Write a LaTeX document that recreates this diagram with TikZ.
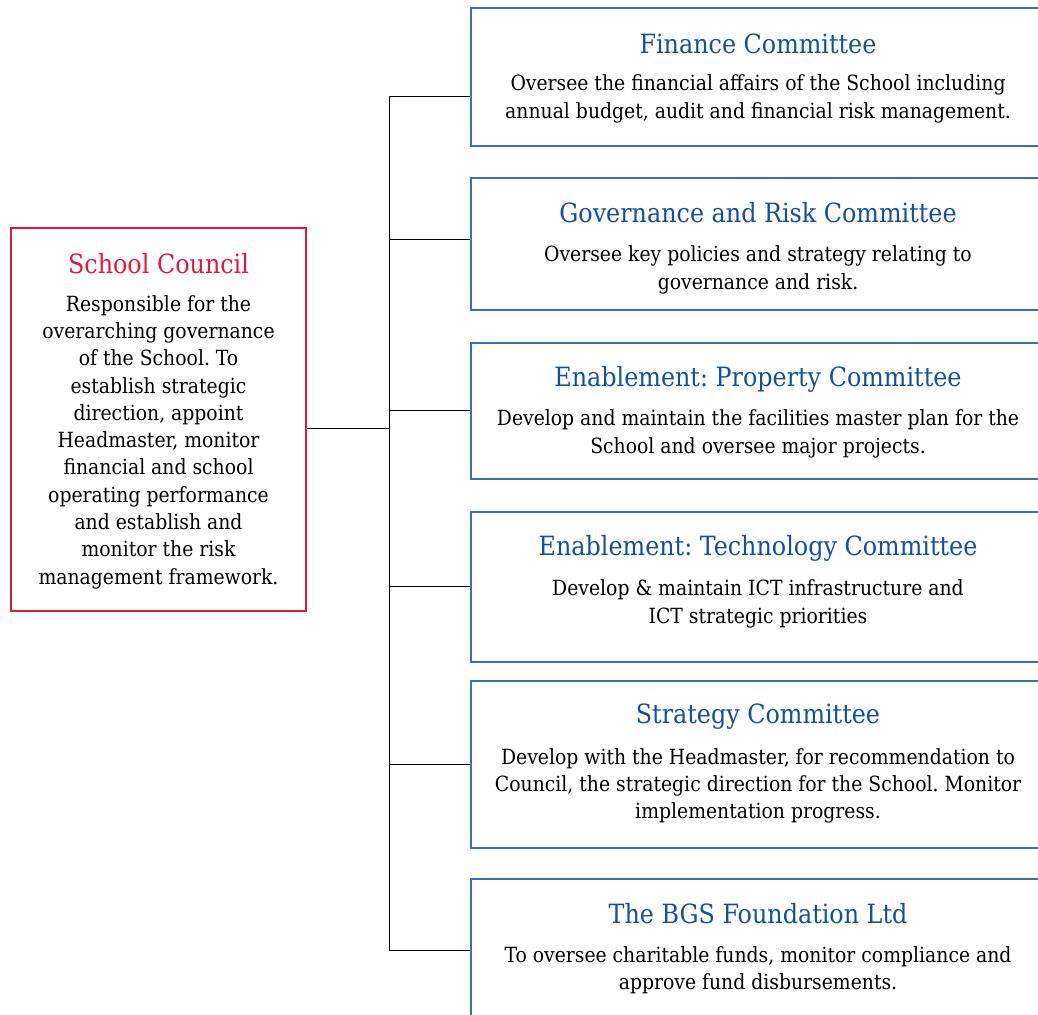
\documentclass[tikz,border=0pt]{standalone}
\usepackage{fontspec}
\setmainfont{DejaVu Serif Condensed}
\frenchspacing
\definecolor{councilred}{HTML}{E2193F}
\definecolor{titleblue}{HTML}{1150A0}
\definecolor{boxblue}{HTML}{3A6FB4}
\begin{document}
\begin{tikzpicture}[x=1pt,y=-1pt,
					council/.style={rectangle,draw=councilred,line width=2.2pt,minimum width=295pt,minimum height=383pt},
					box/.style={rectangle,draw=boxblue,line width=1.4pt,minimum width=574pt},
					head/.style={font=\fontsize{26.5}{30}\selectfont\frenchspacing,text=titleblue},
					body/.style={font=\fontsize{20.9}{27.3}\selectfont\frenchspacing,align=center,inner sep=0pt},
					every edge/.style={line width=0.9pt,draw}]
						\useasboundingbox (0,0) rectangle (1038,1014);
						\clip (0,0) rectangle (1038,1014);
						% left box
						\node[council] (SC) at (158.5,419.5) {};
						\node[head,text=councilred] (SCh) at (158.5,264) {School Council};
						\node[body] (SCb) at (158.5,442) {Responsible for the\\overarching governance\\of the School. To\\establish strategic\\direction, appoint\\Headmaster, monitor\\financial and school\\operating performance\\and establish and\\monitor the risk\\management framework.};
						% committees
						\node[box,minimum height=138pt] (FC) at (758,77) {};
						\node[head] (FCh) at (758,44) {Finance Committee};
						\node[body] (FCb) at (758,99) {Oversee the financial affairs of the School including\\annual budget, audit and financial risk management.};
						\node[box,minimum height=132pt] (GR) at (758,244) {};
						\node[head] (GRh) at (758,213) {Governance and Risk Committee};
						\node[body] (GRb) at (758,270) {Oversee key policies and strategy relating to\\governance and risk.};
						\node[box,minimum height=136pt] (PC) at (758,411) {};
						\node[head] (PCh) at (758,379) {Enablement: Property Committee};
						\node[body] (PCb) at (758,434) {Develop and maintain the facilities master plan for the\\School and oversee major projects.};
						\node[box,minimum height=150pt] (TC) at (758,587) {};
						\node[head] (TCh) at (758,548) {Enablement: Technology Committee};
						\node[body] (TCb) at (758,604) {Develop \& maintain ICT infrastructure and\\ICT strategic priorities};
						\node[box,minimum height=167pt] (ST) at (758,764.5) {};
						\node[head] (STh) at (758,717) {Strategy Committee};
						\node[body] (STb) at (758,786) {Develop with the Headmaster, for recommendation to\\Council, the strategic direction for the School. Monitor\\implementation progress.};
						\node[box,minimum height=142pt] (BF) at (758,950) {};
						\node[head] (BFh) at (758,914) {The BGS Foundation Ltd};
						\node[body] (BFb) at (758,970) {To oversee charitable funds, monitor compliance and\\approve fund disbursements.};
						% connectors
						\coordinate (J1) at (389,96);
						\coordinate (J2) at (389,239);
						\coordinate (J3) at (389,410);
						\coordinate (J0) at (389,428);
						\coordinate (J4) at (389,586);
						\coordinate (J5) at (389,764);
						\coordinate (J6) at (389,950);
						\path [-] (J1) edge (J6);
						\path [-] (SC.east |- J0) edge (J0);
						\path [-] (J1) edge (J1 -| FC.west);
						\path [-] (J2) edge (J2 -| GR.west);
						\path [-] (J3) edge (J3 -| PC.west);
						\path [-] (J4) edge (J4 -| TC.west);
						\path [-] (J5) edge (J5 -| ST.west);
						\path [-] (J6) edge (J6 -| BF.west);
					\end{tikzpicture}
\end{document}
